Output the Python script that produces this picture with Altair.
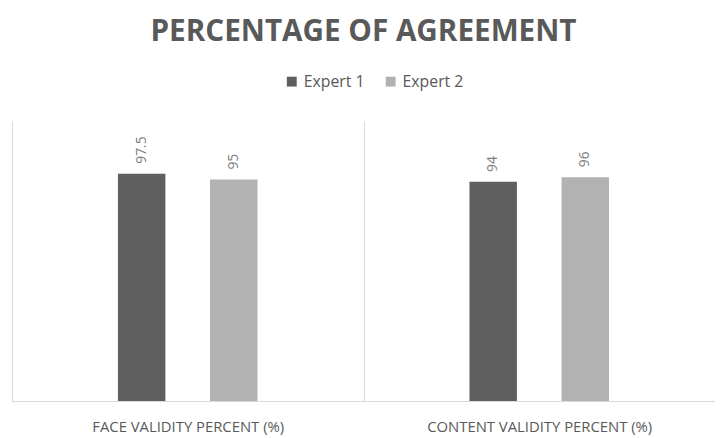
import altair as alt
import pandas as pd

categories = ["FACE VALIDITY PERCENT (%)", "CONTENT VALIDITY PERCENT (%)"]
experts = ["Expert 1", "Expert 2"]
expert1_values = [97.5, 94]
expert2_values = [95, 96]

rows = []
for i, c in enumerate(categories):
    rows.append({"category": c, "expert": experts[0], "value": expert1_values[i]})
    rows.append({"category": c, "expert": experts[1], "value": expert2_values[i]})
df = pd.DataFrame(rows)

colors = ["#5f5f5f", "#b2b2b2"]
font = "Open Sans"

x = alt.X("category:N", sort=categories, title=None,
          scale=alt.Scale(paddingInner=0, paddingOuter=0),
          axis=alt.Axis(labelAngle=0, ticks=False, grid=True, tickBand="extent",
                        gridColor="#d9d9d9", domainColor="#d9d9d9",
                        labelColor="#595959", labelFont=font, labelFontSize=15,
                        labelPadding=19, labelLimit=400))
xo = alt.XOffset("expert:N", sort=experts,
                 scale=alt.Scale(paddingInner=0.183, paddingOuter=1))
y = alt.Y("value:Q", scale=alt.Scale(domain=[0, 120]), axis=None)

bars = alt.Chart(df).mark_bar(width=48).encode(
    x=x, xOffset=xo, y=y,
    color=alt.Color("expert:N", sort=experts,
                    scale=alt.Scale(domain=experts, range=colors),
                    legend=alt.Legend(title=None, orient="none", direction="horizontal",
                                      legendX=275, legendY=-48,
                                      symbolType="square", symbolSize=100,
                                      symbolStrokeWidth=0,
                                      labelFont=font, labelFontSize=16,
                                      labelColor="#595959", columnPadding=18,
                                      symbolOffset=0, labelOffset=4)),
)

labels = alt.Chart(df).mark_text(angle=270, align="left", baseline="middle", dx=10,
                                 font=font, fontSize=14, color="#7f7f7f").encode(
    x=x, xOffset=xo, y=y, text=alt.Text("value:Q"),
)

chart = alt.layer(bars, labels).properties(
    width=711, height=283,
    autosize=alt.AutoSizeParams(type="none"),
    padding={"left": 4, "top": 112, "right": 0, "bottom": 40},
    title=alt.TitleParams("PERCENTAGE OF AGREEMENT", font=font, fontSize=30,
                          fontWeight="bold", color="#595959", anchor="middle",
                          offset=27),
).configure_view(stroke=None)

chart.save("out.html", embed_options={"renderer": "svg", "actions": False})
